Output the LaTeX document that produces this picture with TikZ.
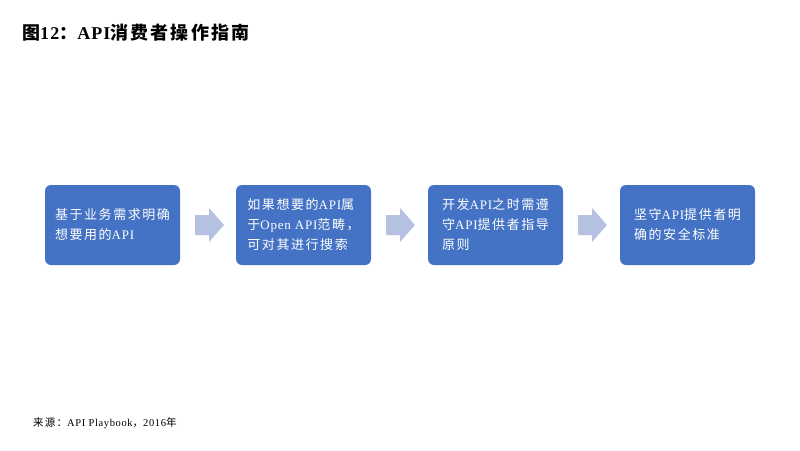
\documentclass[tikz,border=0pt]{standalone}
\usepackage{fontspec}
\setmainfont{Noto Sans CJK SC}[LetterSpace=12]
\newfontfamily\enfont{Liberation Serif}[LetterSpace=6]
\newcommand{\en}[1]{{\enfont #1}}
\definecolor{boxblue}{HTML}{4472C4}
\definecolor{arrowblue}{HTML}{B4C1E0}
\tikzset{
  stepbox/.style={fill=boxblue, draw=none, rounded corners=6pt, minimum width=135pt, minimum height=80pt,
    text=white, align=left, font=\fontsize{13}{20}\selectfont, inner sep=0pt},
  blockarrow/.pic={\fill[arrowblue] (-14,-10) -- (0,-10) -- (0,-17) -- (15,0) -- (0,17) -- (0,10) -- (-14,10) -- cycle;},
}
\begin{document}
\begin{tikzpicture}[x=1pt,y=-1pt]
\useasboundingbox (0,0) rectangle (800,450);
\node[anchor=west, inner sep=0pt, font=\fontsize{18}{20}\selectfont\bfseries] (title) at (22,33) {图\en{12}：\en{API}消费者操作指南};
\node[stepbox] (b1) at (112.5,225) {基于业务需求明确\\想要用的\en{API}};
\node[stepbox] (b2) at (303.5,225) {如果想要的\en{API}属\\于\en{Open API}范畴，\\可对其进行搜索};
\node[stepbox] (b3) at (495.5,225) {开发\en{API}之时需遵\\守\en{API}提供者指导\\原则};
\node[stepbox] (b4) at (687.5,225) {坚守\en{API}提供者明\\确的安全标准};
\coordinate (a1) at (209,225);
\coordinate (a2) at (400,225);
\coordinate (a3) at (592,225);
\pic at (a1) {blockarrow};
\pic at (a2) {blockarrow};
\pic at (a3) {blockarrow};
\node[anchor=west, inner sep=0pt, font=\fontsize{10.5}{12}\selectfont] (src) at (33,423) {来源：\en{API Playbook}，\en{2016}年};
\end{tikzpicture}
\end{document}
